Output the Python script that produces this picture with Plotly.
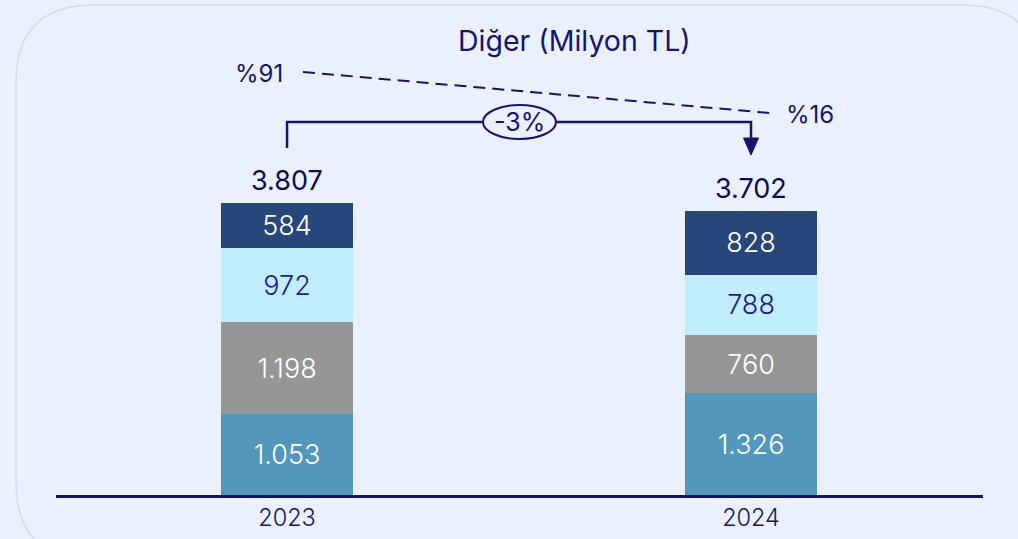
import plotly.graph_objects as go

# ---- data ----
years = ["2023", "2024"]
seg_names = ["Seg A", "Seg B", "Seg C", "Seg D"]  # bottom -> top
seg_values = [
    [1053, 1326],
    [1198, 760],
    [972, 788],
    [584, 828],
]
totals = [3807, 3702]
change_label = "-3%"
share_labels = ["%91", "%16"]
title_text = "Diğer (Milyon TL)"

# ---- style ----
W, H = 1018, 539
ML, MR, MT, MB = 56, 35, 0, 44
seg_colors = ["#5398BC", "#969696", "#C1EEFF", "#27477A"]
seg_text_colors = ["#FFFFFF", "#FFFFFF", "#1A1A8C", "#FFFFFF"]
navy = "#15156E"
bg = "#EAF1FC"
FONT = "Inter"

YMAX = 6454
XR = [-0.498, 1.5]
plot_w = W - ML - MR
plot_h = H - MT - MB


def fmt(v):
    return f"{v:,}".replace(",", ".")


def px_x(p):  # pixel -> data x
    return XR[0] + (p - ML) / plot_w * (XR[1] - XR[0])


def px_y(p):  # pixel -> data y
    return (H - MB - p) / plot_h * YMAX


def pap_x(p):
    return (p - ML) / plot_w


def pap_y(p):
    return (H - MB - p) / plot_h


xs = list(range(len(years)))
fig = go.Figure()
for name, vals, col, tcol in zip(seg_names, seg_values, seg_colors, seg_text_colors):
    lab_font = dict(color=tcol, size=27, family=FONT, weight=300)
    fig.add_trace(go.Bar(
        x=xs, y=vals, name=name, width=0.2845,
        marker=dict(color=col, line=dict(width=0)),
        text=[fmt(v) for v in vals], textposition="inside",
        insidetextanchor="middle", textangle=0,
        textfont=lab_font, insidetextfont=lab_font,
        constraintext="none", hoverinfo="skip",
    ))

# total labels
for x, t in zip(xs, totals):
    fig.add_annotation(x=x, y=t, text=fmt(t), showarrow=False, yanchor="bottom",
                       yshift=4, font=dict(size=27, color="#0A0A55", family=FONT))

shapes = []
# rounded frame
L, T, R, B, r = 16, 5, 1040, 560, 78
path = (f"M {pap_x(L)},{pap_y(T + r)} "
        f"Q {pap_x(L)},{pap_y(T)} {pap_x(L + r)},{pap_y(T)} "
        f"L {pap_x(R - r)},{pap_y(T)} "
        f"Q {pap_x(R)},{pap_y(T)} {pap_x(R)},{pap_y(T + r)} "
        f"L {pap_x(R)},{pap_y(B - r)} "
        f"Q {pap_x(R)},{pap_y(B)} {pap_x(R - r)},{pap_y(B)} "
        f"L {pap_x(L + r)},{pap_y(B)} "
        f"Q {pap_x(L)},{pap_y(B)} {pap_x(L)},{pap_y(B - r)} Z")
shapes.append(dict(type="path", xref="paper", yref="paper", path=path,
                   line=dict(color="#D6DCE4", width=1.5), fillcolor="rgba(0,0,0,0)", layer="below"))

# bracket
x0, x1 = xs[0], xs[1]
yb = px_y(122)
ys0 = px_y(148)
ye1 = px_y(140)
shapes.append(dict(type="path", xref="x", yref="y",
                   path=f"M {x0},{ys0} L {x0},{yb} L {x1},{yb} L {x1},{ye1}",
                   line=dict(color=navy, width=2.5)))
# arrow head
hw = 7.5 / plot_w * (XR[1] - XR[0])
shapes.append(dict(type="path", xref="x", yref="y",
                   path=f"M {x1 - hw},{px_y(138)} L {x1 + hw},{px_y(138)} L {x1},{px_y(155)} Z",
                   fillcolor=navy, line=dict(color=navy, width=1)))
# ellipse
shapes.append(dict(type="circle", xref="x", yref="y",
                   x0=px_x(483), x1=px_x(556), y0=px_y(139), y1=px_y(105),
                   fillcolor=bg, line=dict(color=navy, width=2)))
# dashed line
shapes.append(dict(type="line", xref="x", yref="y",
                   x0=px_x(303), y0=px_y(72), x1=px_x(770), y1=px_y(113),
                   line=dict(color=navy, width=2, dash="12px,7px")))

fig.add_annotation(x=px_x(519), y=yb, text=change_label, showarrow=False,
                   font=dict(size=25, color=navy, family=FONT))
fig.add_annotation(x=px_x(258.5), y=px_y(73), text=share_labels[0], showarrow=False,
                   font=dict(size=24, color=navy, family=FONT))
fig.add_annotation(x=px_x(810), y=px_y(114), text=share_labels[1], showarrow=False,
                   font=dict(size=24, color=navy, family=FONT))
fig.add_annotation(x=px_x(574), y=px_y(40), text=title_text, showarrow=False,
                   font=dict(size=28.5, color=navy, family=FONT))

fig.update_layout(
    width=W, height=H, margin=dict(l=ML, r=MR, t=MT, b=MB),
    barmode="stack", showlegend=False, bargap=0,
    paper_bgcolor=bg, plot_bgcolor="rgba(0,0,0,0)",
    shapes=shapes,
    xaxis=dict(range=XR, tickvals=xs, ticktext=years, showgrid=False, zeroline=False,
               showline=True, linecolor="#12126A", linewidth=2.5, ticks="",
               tickfont=dict(size=23.5, color=navy, family=FONT, weight=300), fixedrange=True),
    yaxis=dict(range=[0, YMAX], visible=False, fixedrange=True),
    font=dict(family=FONT),
)

fig.write_html(
    "out.html",
    config={"displayModeBar": False, "staticPlot": True},
    post_script="document.body.style.margin='0';document.body.style.background='#EAF1FC';",
)
